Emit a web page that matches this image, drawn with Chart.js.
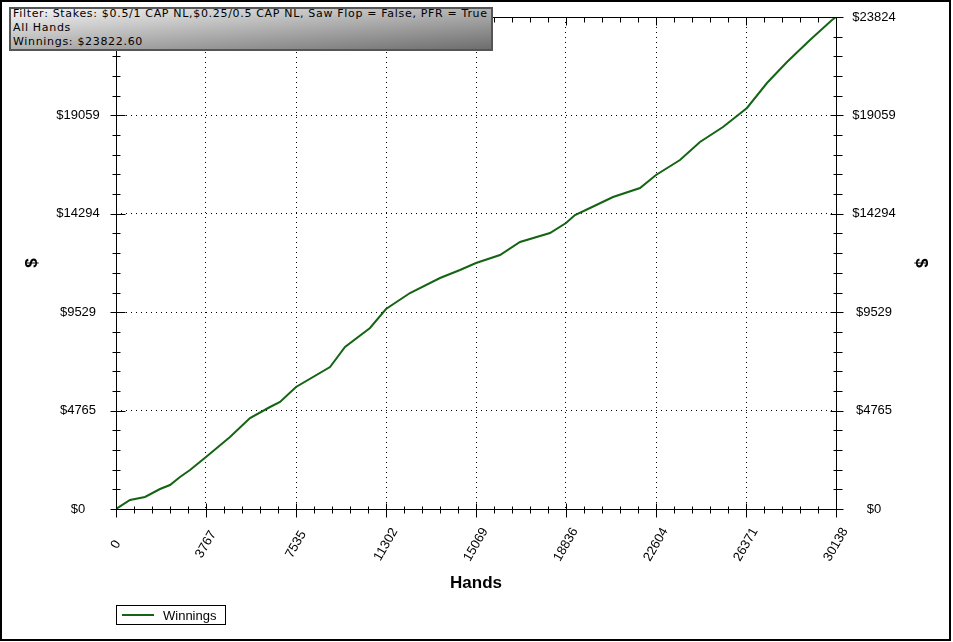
<!DOCTYPE html>
<html>
<head>
<meta charset="utf-8">
<script src="https://cdn.jsdelivr.net/npm/chart.js@4/dist/chart.umd.min.js"></script>
<style>
  body { margin: 0; background: #fff; }
  #wrap { position: relative; width: 953px; height: 642px; }
  #frame { position: absolute; left: 0; top: 0; width: 947px; height: 637px; border: 2px solid #000; pointer-events: none; }
  #info { position: absolute; left: 9px; top: 7px; width: 478px; height: 40px; padding-left: 2px;
          border: 2px solid #555; background: linear-gradient(to bottom right, #f4f4f4, #6e6e6e);
          font: 11px "DejaVu Sans"; letter-spacing: 0.68px; line-height: 14px; color: #000;
          white-space: nowrap; overflow: hidden; }
  #info .lines { margin-top: -2px; }
  #legend { position: absolute; left: 116px; top: 605px; width: 108px; height: 18px; border: 1px solid #000;
            font: 13px "Liberation Sans"; color: #000; }
  #legend .swatch { position: absolute; left: 5px; top: 8px; width: 32px; height: 2px; }
  #legend .txt { position: absolute; left: 46px; top: 2px; }
</style>
</head>
<body>
<div id="wrap">
  <canvas id="chart" width="953" height="642"></canvas>
  <div id="info"></div>
  <div id="legend"></div>
  <div id="frame"></div>
</div>
<script>
// hands played vs. cumulative winnings
const hands = [0, 586, 1214, 1842, 2260, 2679, 3098, 3767, 4772, 5609, 6446, 6865, 7535,
  8958, 9586, 10632, 11302, 12306, 13562, 14399, 15069, 16073, 16911, 18166, 18836,
  19213, 19841, 20804, 21934, 22604, 23607, 24444, 25407, 26412, 27249, 28086, 29049, 29970, 30138];
const winnings = [0, 436, 581, 968, 1162, 1550, 1888, 2518, 3486, 4406, 4939, 5181, 5908,
  6876, 7845, 8765, 9685, 10459, 11186, 11573, 11912, 12299, 12929, 13365, 13849,
  14236, 14575, 15108, 15544, 16174, 16900, 17771, 18498, 19418, 20628, 21645, 22710, 23678, 23822.6];

const xTickValues = [0, 3767, 7535, 11302, 15069, 18836, 22604, 26371, 30138];
const xTickLabels = ['0', '3767', '7535', '11302', '15069', '18836', '22604', '26371', '30138'];
const yTickValues = [0, 4765, 9529, 14294, 19059, 23824];
const yTickLabels = ['$0', '$4765', '$9529', '$14294', '$19059', '$23824'];

const seriesLabel = 'Winnings';
const infoLines = [
  'Filter: Stakes: $0.5/1 CAP NL,$0.25/0.5 CAP NL, Saw Flop = False, PFR = True',
  'All Hands',
  'Winnings: $23822.60'
];

const lineColor = '#146414';
const tickFont = { family: 'Liberation Sans', size: 13 };
const titleFont = { family: 'Liberation Sans', size: 17, weight: 'bold' };

// axis box, major/minor tick marks and tick labels
const axisFrame = {
  id: 'axisFrame',
  afterDraw(chart) {
    const { ctx, chartArea: a, scales } = chart;
    const sx = scales.x, sy = scales.y;
    const L = Math.round(a.left) + 0.5, R = Math.round(a.right) + 0.5;
    const T = Math.round(a.top) + 0.5, B = Math.round(a.bottom) + 0.5;
    ctx.save();
    ctx.strokeStyle = '#000';
    ctx.lineWidth = 1;
    ctx.beginPath();
    ctx.moveTo(L, T); ctx.lineTo(R, T); ctx.lineTo(R, B); ctx.lineTo(L, B); ctx.closePath();

    const line = (x1, y1, x2, y2) => { ctx.moveTo(x1, y1); ctx.lineTo(x2, y2); };

    for (let i = 0; i < xTickValues.length; i++) {
      const px = Math.round(sx.getPixelForValue(xTickValues[i])) + 0.5;
      line(px, B - 6, px, B + 8);
      line(px, T, px, T + 8);
      if (i < xTickValues.length - 1) {
        const step = (xTickValues[i + 1] - xTickValues[i]) / 5;
        for (let k = 1; k < 5; k++) {
          const mx = Math.round(sx.getPixelForValue(xTickValues[i] + step * k)) + 0.5;
          line(mx, B - 3, mx, B + 4);
          line(mx, T, mx, T + 5);
        }
      }
    }
    for (let i = 0; i < yTickValues.length; i++) {
      const py = Math.round(sy.getPixelForValue(yTickValues[i])) + 0.5;
      line(L - 6, py, L + 9, py);
      line(R - 6, py, R + 7, py);
      if (i < yTickValues.length - 1) {
        const step = (yTickValues[i + 1] - yTickValues[i]) / 5;
        for (let k = 1; k < 5; k++) {
          const my = Math.round(sy.getPixelForValue(yTickValues[i] + step * k)) + 0.5;
          line(L - 4, my, L + 4, my);
          line(R - 3, my, R + 6, my);
        }
      }
    }
    ctx.stroke();

    ctx.fillStyle = '#000';
    ctx.font = tickFont.size + 'px ' + tickFont.family;
    ctx.textAlign = 'center';
    ctx.textBaseline = 'middle';
    yTickValues.forEach((v, i) => {
      const py = sy.getPixelForValue(v);
      ctx.fillText(yTickLabels[i], a.left - 38, py);
      ctx.fillText(yTickLabels[i], a.right + 38, py);
    });
    xTickValues.forEach((v, i) => {
      ctx.save();
      ctx.translate(sx.getPixelForValue(v), B + 35);
      ctx.rotate(-Math.PI / 3);
      ctx.fillText(xTickLabels[i], 0, 0);
      ctx.restore();
    });
    ctx.restore();
  }
};

const yAxis = (position) => ({
  type: 'linear',
  position: position,
  min: 0,
  max: 23824,
  afterBuildTicks: (s) => { s.ticks = yTickValues.map(v => ({ value: v })); },
  afterFit: (s) => { s.width = position === 'left' ? 116 : 117; },
  ticks: { display: false },
  grid: { color: '#000', lineWidth: 1, drawTicks: false, drawOnChartArea: position === 'left' },
  border: { display: false, dash: [1, 4] },
  title: { display: true, text: '$', font: titleFont, color: '#000', padding: { top: 22, bottom: 0 } }
});

const ctx = document.getElementById('chart');
const chart = new Chart(ctx, {
  type: 'line',
  data: {
    datasets: [{
      label: seriesLabel,
      data: hands.map((h, i) => ({ x: h, y: winnings[i] })),
      borderColor: lineColor,
      borderWidth: 2,
      pointRadius: 0,
      tension: 0,
      fill: false
    }]
  },
  options: {
    responsive: false,
    animation: false,
    devicePixelRatio: 1,
    layout: { padding: { top: 17, left: 0, right: 0, bottom: 48 } },
    plugins: { legend: { display: false }, tooltip: { enabled: false } },
    scales: {
      x: {
        type: 'linear',
        min: 0,
        max: 30138,
        afterBuildTicks: (s) => { s.ticks = xTickValues.map(v => ({ value: v })); },
        afterFit: (s) => { s.height = 85; },
        ticks: { display: false },
        grid: { color: '#000', lineWidth: 1, drawTicks: false },
        border: { display: false, dash: [1, 4] },
        title: { display: true, text: 'Hands', font: titleFont, color: '#000', padding: { top: 0, bottom: 0 } }
      },
      y: yAxis('left'),
      y2: yAxis('right')
    }
  },
  plugins: [axisFrame]
});

document.getElementById('info').innerHTML =
  '<div class="lines">' + infoLines.map(t => '<div>' + t + '</div>').join('') + '</div>';
const ds = chart.data.datasets[0];
document.getElementById('legend').innerHTML =
  '<div class="swatch" style="background:' + ds.borderColor + '"></div><div class="txt">' + ds.label + '</div>';
</script>
</body>
</html>
